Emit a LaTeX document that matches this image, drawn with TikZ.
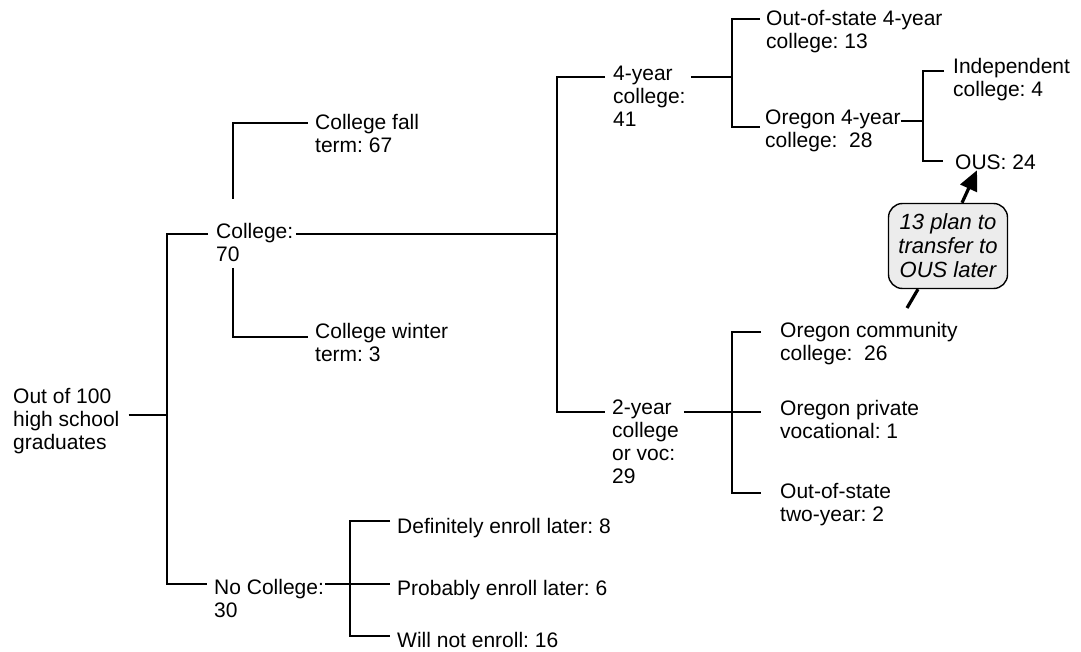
\documentclass[tikz,border=0pt]{standalone}
\usepackage{fontspec}
\setmainfont{Liberation Sans}
\usepackage{tikz}
\usetikzlibrary{arrows.meta,positioning}
\frenchspacing

\begin{document}
\begin{tikzpicture}[
    x=1pt, y=-1pt,
    every node/.style={anchor=north west, align=left, inner sep=0pt, font=\fontsize{21}{23}\selectfont},
    branch/.style={line width=1.6pt},
    note/.style={draw, line width=1.4pt, rounded corners=14pt, fill=gray!15, minimum width=119pt, minimum height=85pt, anchor=center, align=center, font=\fontsize{22}{24}\selectfont\itshape},
]
\useasboundingbox (0,0) rectangle (1081,652);
\node (root) at (13,388) {Out of 100\\high school\\graduates};
\node (coll) at (216,223) {College:\\70};
\node (fall) at (315,114) {College fall\\term: 67};
\node (winter) at (315,323) {College winter\\term: 3};
\node (nocoll) at (214,579) {No College:\\30};
\node (def) at (397,518) {Definitely enroll later: 8};
\node (prob) at (397,580) {Probably enroll later: 6};
\node (willnot) at (397,632) {Will not enroll: 16};
\node (four) at (613,66) {4-year\\college:\\41};
\node (two) at (612,400) {2-year\\college\\or voc:\\29};
\node (oos4) at (766,10) {Out-of-state 4-year\\college: 13};
\node (or4) at (765,110) {Oregon 4-year\\college:\ \ 28};
\node (indep) at (953,58) {Independent\\college: 4};
\node (ous) at (955,155) {OUS: 24};
\node (ocomm) at (780,322) {Oregon community\\college:\ \ 26};
\node (opriv) at (780,400) {Oregon private\\vocational: 1};
\node (oos2) at (780,483) {Out-of-state\\two-year: 2};
\node [note] (plan) at (948,246) {13 plan to\\transfer to\\OUS later};

\coordinate (j0) at (167,415);
\coordinate (j1) at (557,234);
\coordinate (j2) at (732,77);
\coordinate (j3) at (923,121);
\coordinate (j4) at (732,412);
\coordinate (j5) at (350,584);
\coordinate (cup) at (233,199);
\coordinate (cdown) at (233,268);
\coordinate (tail) at (907,308);

\draw [branch] ([xshift=9pt,yshift=-27pt]root.north east) -- (j0);
\draw [branch] ([xshift=-8pt,yshift=-11pt]coll.north west) -| (j0) |- ([xshift=-7pt,yshift=-5pt]nocoll.north west);
\draw [branch] (cup) |- ([xshift=-7pt,yshift=-9pt]fall.north west);
\draw [branch] (cdown) |- ([xshift=-7pt,yshift=-14pt]winter.north west);
\draw [branch] ([xshift=3pt,yshift=-11pt]coll.north east) -- (j1);
\draw [branch] ([xshift=-8pt,yshift=-11pt]four.north west) -| (j1) |- ([xshift=-7pt,yshift=-12pt]two.north west);
\draw [branch] ([xshift=5pt,yshift=-11pt]four.north east) -- (j2);
\draw [branch] ([xshift=-6pt,yshift=-9pt]oos4.north west) -| (j2) |- ([xshift=-5pt,yshift=-17pt]or4.north west);
\draw [branch] ([yshift=-11pt]or4.north east) -- (j3);
\draw [branch] ([xshift=-9pt,yshift=-13pt]indep.north west) -| (j3) |- ([xshift=-12pt,yshift=-6pt]ous.north west);
\draw [branch] ([xshift=5pt,yshift=-12pt]two.north east) -- ([xshift=-19pt,yshift=-12pt]opriv.north west);
\draw [branch] ([xshift=-19pt,yshift=-10pt]ocomm.north west) -| (j4) |- ([xshift=-19pt,yshift=-10pt]oos2.north west);
\draw [branch] ([xshift=1pt,yshift=-5pt]nocoll.north east) -- ([xshift=-7pt,yshift=-4pt]prob.north west);
\draw [branch] ([xshift=-7pt,yshift=-3pt]def.north west) -| (j5) |- ([xshift=-7pt,yshift=-4pt]willnot.north west);
\draw [-{Triangle[length=20pt,width=18pt]}, line width=3.2pt] ([xshift=14pt]plan.north) -- ([xshift=22pt]ous.south west);
\draw [line width=3.2pt] ([xshift=-30pt]plan.south) -- (tail);
\end{tikzpicture}
\end{document}
